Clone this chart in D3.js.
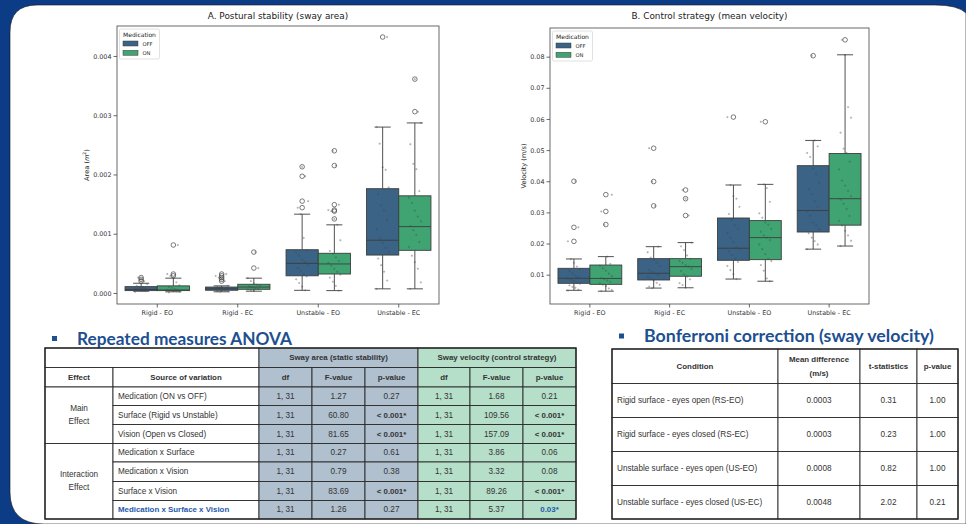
<!DOCTYPE html>
<html>
<head>
<meta charset="utf-8">
<script src="https://cdn.jsdelivr.net/npm/d3@7"></script>
<style>
  body { margin:0; background:#0c3c86; }
  svg { display:block; }
  .tick text { font-family:"DejaVu Sans", sans-serif; }
  .tbl { font-family:"Liberation Sans", Arial, sans-serif; }
</style>
</head>
<body>
<svg id="slide"></svg>
<script>
// ---------- data ----------
var conditions=["Rigid - EO","Rigid - EC","Unstable - EO","Unstable - EC"]
var medication=["OFF","ON"]
var medColors=["#3a6386","#3fa472"]

// A. sway area, [OFF, ON] per condition
var areaQ1=[[0.00004,0.00004],[0.000046,0.000062],[0.00029,0.00032],[0.00064,0.00072]]
var areaMedian=[[0.00006,0.00005],[0.00007,0.0001],[0.0005,0.00049],[0.00089,0.00112]]
var areaQ3=[[0.000107,0.00012],[0.0001,0.000147],[0.00073,0.00067],[0.00176,0.00164]]
var areaLow=[[0.00003,0.00002],[0.00002,0.00003],[0.000045,0.00004],[0.00007,0.00007]]
var areaHigh=[[0.000164,0.00025],[0.00012,0.00025],[0.00133,0.00115],[0.0028,0.00287]]
var areaOutliers=[
  [[0.0002,0.00023,0.00026],[0.00029,0.00032,0.00081]],
  [[0.0002,0.00023,0.00026,0.00029,0.00032],[0.00042,0.00069]],
  [[0.00144,0.00155,0.00197,0.00213],[0.00125,0.00138,0.0014,0.00149,0.00215,0.0024]],
  [[0.00432],[0.00306,0.00361]]
]
var areaPoints=[
  [[0.00002,0.00003,0.000035,0.00004,0.000045,0.00005,0.000052,0.00006,0.000066,0.00007,0.00008,0.00009,0.000104,0.00012,0.00015,0.0002,0.00023,0.00026],
   [0.00001,0.00002,0.000028,0.000036,0.000044,0.00005,0.000058,0.00007,0.000085,0.0001,0.00013,0.00018,0.00025,0.00029,0.00032,0.00081]],
  [[0.00002,0.000028,0.000035,0.000042,0.00005,0.000057,0.000066,0.000072,0.000081,0.00009,0.0001,0.00012,0.0002,0.00023,0.00026,0.00029,0.00032],
   [0.00003,0.000045,0.00006,0.000068,0.00008,0.000095,0.00011,0.000125,0.00014,0.00016,0.0002,0.00025,0.00042,0.00069]],
  [[0.000045,0.00011,0.00017,0.00023,0.00028,0.00031,0.00037,0.00042,0.00047,0.00052,0.00056,0.00063,0.00068,0.00072,0.00093,0.00133,0.00144,0.00155,0.00197,0.00213],
   [0.00004,0.00012,0.00019,0.00026,0.00031,0.00036,0.00041,0.00046,0.00051,0.00054,0.0006,0.00066,0.00071,0.00089,0.00115,0.00125,0.00138,0.0014,0.00149,0.00215,0.0024]],
  [[0.00007,0.00021,0.00036,0.00047,0.00058,0.00069,0.00076,0.00084,0.00092,0.00108,0.00123,0.00139,0.00148,0.00167,0.00178,0.00208,0.00212,0.00252,0.0028,0.00432],
   [0.00007,0.00018,0.00041,0.00052,0.00063,0.00078,0.00086,0.00098,0.00106,0.00113,0.00121,0.00129,0.00139,0.00152,0.00161,0.00172,0.00209,0.00218,0.00251,0.00287,0.00306,0.00361]]
]
var areaTicks=[0,0.001,0.002,0.003,0.004]

// B. sway velocity, [OFF, ON] per condition
var velQ1=[[0.00723,0.0069],[0.0083,0.0095],[0.01462,0.01483],[0.0237,0.0259]]
var velMedian=[[0.00884,0.0088],[0.01045,0.01258],[0.01848,0.0219],[0.0306,0.0344]]
var velQ3=[[0.01205,0.0131],[0.01515,0.01515],[0.0282,0.02737],[0.045,0.0489]]
var velLow=[[0.00498,0.0047],[0.0057,0.0058],[0.0086,0.0079],[0.0182,0.0192]]
var velHigh=[[0.01505,0.0158],[0.019,0.0203],[0.0388,0.039],[0.0531,0.0806]]
var velOutliers=[
  [[0.0207,0.0252,0.04],[0.0261,0.0303,0.0357]],
  [[0.0321,0.0399,0.0506],[0.029,0.0344,0.0372]],
  [[0.0606],[0.0591]],
  [[0.0803],[0.0854]]
]
var velPoints=[
  [[0.0049,0.0052,0.0058,0.0061,0.0066,0.0071,0.0074,0.0079,0.0083,0.0088,0.0091,0.0097,0.0104,0.0112,0.0118,0.0126,0.0138,0.015,0.0207,0.0252,0.04],
   [0.0047,0.0051,0.0056,0.0063,0.0068,0.0072,0.0077,0.0082,0.0086,0.0089,0.0095,0.0103,0.0113,0.0121,0.0129,0.0135,0.0158,0.0261,0.0303,0.0357]],
  [[0.0057,0.0062,0.0068,0.0074,0.0081,0.0087,0.0093,0.0099,0.0104,0.0109,0.0116,0.0128,0.0139,0.0147,0.0155,0.0172,0.019,0.0321,0.0399,0.0506],
   [0.0058,0.0067,0.0073,0.0085,0.0094,0.0101,0.0112,0.0119,0.0126,0.0131,0.0138,0.0144,0.0151,0.0162,0.0179,0.0191,0.0203,0.029,0.0344,0.0372]],
  [[0.0086,0.0102,0.0115,0.0128,0.0141,0.0152,0.0163,0.0175,0.0183,0.0189,0.0204,0.0218,0.0233,0.0247,0.0259,0.0276,0.0295,0.0318,0.0344,0.0352,0.0388,0.0606],
   [0.0079,0.0088,0.0113,0.0131,0.0144,0.0151,0.0166,0.0182,0.0197,0.0211,0.0219,0.0226,0.0238,0.0247,0.0261,0.0268,0.0283,0.0297,0.0334,0.0378,0.039,0.0591]],
  [[0.0182,0.0197,0.0208,0.0219,0.0233,0.0246,0.0259,0.0268,0.0289,0.0303,0.0318,0.0336,0.0358,0.0374,0.0395,0.0423,0.0441,0.0478,0.0491,0.0512,0.0531,0.0803],
   [0.0192,0.0209,0.0226,0.0241,0.0258,0.0273,0.0289,0.0311,0.0328,0.0341,0.0352,0.0369,0.0386,0.0402,0.0438,0.0463,0.0491,0.0505,0.0556,0.0604,0.0638,0.0806,0.0854]]
]
var velTicks=[0.01,0.02,0.03,0.04,0.05,0.06,0.07,0.08]

// ANOVA table
var anovaSources=["Medication (ON vs OFF)","Surface (Rigid vs Unstable)","Vision (Open vs Closed)","Medication x Surface","Medication x Vision","Surface x Vision","Medication x Surface x Vision"]
var anovaEffects=[["Main","Effect"],["Interaction","Effect"]]
var anovaEffectRows=[3,4]
var anovaDf=["1, 31","1, 31","1, 31","1, 31","1, 31","1, 31","1, 31"]
var areaF=["1.27","60.80","81.65","0.27","0.79","83.69","1.26"]
var areaP=["0.27","< 0.001*","< 0.001*","0.61","0.38","< 0.001*","0.27"]
var velF=["1.68","109.56","157.09","3.86","3.32","89.26","5.37"]
var velP=["0.21","< 0.001*","< 0.001*","0.06","0.08","< 0.001*","0.03*"]

// Bonferroni table
var bonfConditions=["Rigid surface - eyes open (RS-EO)","Rigid surface - eyes closed (RS-EC)","Unstable surface - eyes open (US-EO)","Unstable surface - eyes closed (US-EC)"]
var bonfMeanDiff=["0.0003","0.0003","0.0008","0.0048"]
var bonfT=["0.31","0.23","0.82","2.02"]
var bonfP=["1.00","1.00","1.00","0.21"]

// ---------- slide ----------
var screen={width:966,height:524}
var svg=d3.select("#slide").attr("width",screen.width).attr("height",screen.height)
svg.append("rect").attr("width",screen.width).attr("height",screen.height).attr("fill","#0c3c86")
svg.append("path")
  .attr("d","M10,32 Q10,5 37,5 L935,5 Q958,5 966,13 L966,524 L44,524 Q10,524 10,492 Z")
  .attr("fill","#fff").attr("stroke","#111").attr("stroke-width",0.6)

var navy="#1d4f91"
var linkBlue="#2459ad"

// ---------- box chart ----------
var drawBoxChart=function(cfg){
  var frame=cfg.frame
  var g=svg.append("g")
  var xScale=d3.scaleBand().domain(conditions).range([frame.left,frame.right])
  var hueScale=d3.scaleBand().domain(medication).range([0,xScale.bandwidth()*0.8])
  var yScale=d3.scaleLinear().domain(cfg.domain).range([frame.bottom,frame.top])
  var boxW=hueScale.bandwidth()
  var stroke="#3d3d3d"

  conditions.forEach(function(c,ci){
    medication.forEach(function(m,mi){
      var cx=xScale(c)+xScale.bandwidth()*0.1+hueScale(m)+boxW/2
      var bg=g.append("g")
      // whiskers
      bg.append("line").attr("x1",cx).attr("x2",cx)
        .attr("y1",yScale(cfg.q3[ci][mi])).attr("y2",yScale(cfg.high[ci][mi]))
        .attr("stroke",stroke).attr("stroke-width",0.9)
      bg.append("line").attr("x1",cx).attr("x2",cx)
        .attr("y1",yScale(cfg.q1[ci][mi])).attr("y2",yScale(cfg.low[ci][mi]))
        .attr("stroke",stroke).attr("stroke-width",0.9)
      bg.selectAll("line.cap").data([cfg.low[ci][mi],cfg.high[ci][mi]]).enter()
        .append("line").attr("class","cap")
        .attr("x1",cx-boxW/4).attr("x2",cx+boxW/4)
        .attr("y1",function(d){return yScale(d)}).attr("y2",function(d){return yScale(d)})
        .attr("stroke",stroke).attr("stroke-width",0.9)
      // box
      bg.append("rect")
        .attr("x",cx-boxW/2).attr("width",boxW)
        .attr("y",yScale(cfg.q3[ci][mi]))
        .attr("height",yScale(cfg.q1[ci][mi])-yScale(cfg.q3[ci][mi]))
        .attr("fill",medColors[mi]).attr("stroke",stroke).attr("stroke-width",0.9)
      bg.append("line")
        .attr("x1",cx-boxW/2).attr("x2",cx+boxW/2)
        .attr("y1",yScale(cfg.median[ci][mi])).attr("y2",yScale(cfg.median[ci][mi]))
        .attr("stroke",stroke).attr("stroke-width",0.9)
      // outliers
      bg.selectAll("circle.flier").data(cfg.outliers[ci][mi]).enter()
        .append("circle").attr("class","flier")
        .attr("cx",cx).attr("cy",function(d){return yScale(d)})
        .attr("r",2.3).attr("fill","none").attr("stroke","#444").attr("stroke-width",0.7)
      // strip points
      bg.selectAll("circle.pt").data(cfg.points[ci][mi]).enter()
        .append("circle").attr("class","pt")
        .attr("cx",function(d,i){return cx+(((i*7+ci*3+mi)%9)-4)*1.5})
        .attr("cy",function(d){return yScale(d)})
        .attr("r",0.9).attr("fill","#555").attr("fill-opacity",0.4)
        .attr("stroke","#333").attr("stroke-opacity",0.3).attr("stroke-width",0.3)
    })
  })

  // frame
  g.append("rect").attr("x",frame.left).attr("y",frame.top)
    .attr("width",frame.right-frame.left).attr("height",frame.bottom-frame.top)
    .attr("fill","none").attr("stroke","#5a5a5a").attr("stroke-width",0.9)

  var yAxis=d3.axisLeft(yScale).tickValues(cfg.ticks).tickFormat(d3.format(cfg.fmt)).tickSize(3.5).tickPadding(2)
  var xAxis=d3.axisBottom(xScale).tickSize(3.5).tickPadding(3)
  var ya=g.append("g").attr("transform","translate("+frame.left+",0)").call(yAxis)
  var xa=g.append("g").attr("transform","translate(0,"+frame.bottom+")").call(xAxis)
  ;[ya,xa].forEach(function(a){
    a.select(".domain").remove()
    a.selectAll(".tick line").attr("stroke","#444").attr("stroke-width",0.8)
    a.selectAll(".tick text").attr("font-size",6.4).attr("fill","#333")
  })

  // title and labels
  g.append("text").text(cfg.title)
    .attr("x",(frame.left+frame.right)/2).attr("y",18.5)
    .attr("text-anchor","middle").attr("font-family","DejaVu Sans").attr("font-size",8.9).attr("fill","#222")
  var yl=g.append("text")
    .attr("transform","translate("+cfg.ylabelX+","+((frame.top+frame.bottom)/2)+") rotate(-90)")
    .attr("text-anchor","middle").attr("font-family","DejaVu Sans").attr("font-size",6.6).attr("fill","#222")
  cfg.ylabel(yl)

  // legend
  var lg=g.append("g").attr("transform","translate("+(frame.left+2.5)+","+(frame.top+3)+")")
  lg.append("rect").attr("width",40).attr("height",30).attr("rx",1.5)
    .attr("fill","#fff").attr("stroke","#ccc").attr("stroke-width",0.6)
  lg.append("text").text("Medication").attr("x",20).attr("y",7.8).attr("text-anchor","middle")
    .attr("font-family","DejaVu Sans").attr("font-size",6).attr("fill","#222")
  medication.forEach(function(m,i){
    lg.append("rect").attr("x",3.5).attr("y",12+i*9.3).attr("width",15).attr("height",5)
      .attr("fill",medColors[i]).attr("stroke","#3d3d3d").attr("stroke-width",0.5)
    lg.append("text").text(m).attr("x",23).attr("y",16.6+i*9.3)
      .attr("font-family","DejaVu Sans").attr("font-size",5.2).attr("fill","#222")
  })
}

drawBoxChart({
  frame:{left:117,right:439,top:26,bottom:304},
  domain:[-0.000186,0.004506],
  ticks:areaTicks, fmt:".3f",
  q1:areaQ1, median:areaMedian, q3:areaQ3, low:areaLow, high:areaHigh,
  outliers:areaOutliers, points:areaPoints,
  title:"A. Postural stability (sway area)",
  ylabelX:89,
  ylabel:function(t){
    t.append("tspan").text("Area (")
    t.append("tspan").text("m").attr("font-style","italic")
    t.append("tspan").text("2").attr("font-size",4.6).attr("dy",-2.6)
    t.append("tspan").text(")").attr("dy",2.6)
  }
})

drawBoxChart({
  frame:{left:550,right:869,top:28,bottom:304},
  domain:[0.00059,0.0892],
  ticks:velTicks, fmt:".2f",
  q1:velQ1, median:velMedian, q3:velQ3, low:velLow, high:velHigh,
  outliers:velOutliers, points:velPoints,
  title:"B. Control strategy (mean velocity)",
  ylabelX:526,
  ylabel:function(t){ t.text("Velocity (m/s)") }
})

// ---------- headings ----------
var heading=function(x,y,txt,len){
  svg.append("rect").attr("x",x).attr("y",y-8.5).attr("width",5).attr("height",5).attr("fill",navy)
  svg.append("text").text(txt).attr("x",x+25).attr("y",y)
    .attr("font-family","Lato, 'Open Sans', sans-serif").attr("font-weight","bold")
    .attr("font-size",16.5).attr("fill",navy)
    .attr("textLength",len).attr("lengthAdjust","spacingAndGlyphs")
}
heading(52,344.5,"Repeated measures ANOVA",215)
heading(619,342,"Bonferroni correction (sway velocity)",290)

// ---------- tables ----------
var cell=function(x0,x1,y0,y1,fill){
  svg.append("rect").attr("x",x0).attr("y",y0).attr("width",x1-x0).attr("height",y1-y0)
    .attr("fill",fill).attr("stroke","#2b2b2b").attr("stroke-width",0.9)
}
var label=function(x,y,txt,opts){
  opts=opts||{}
  svg.append("text").attr("class","tbl").text(txt).attr("x",x).attr("y",y)
    .attr("text-anchor",opts.anchor||"middle").attr("dominant-baseline","central")
    .attr("font-size",opts.size||(opts.bold?7.9:8.2)).attr("font-weight",opts.bold?"bold":"normal")
    .attr("fill",opts.color||"#333")
}

var aCols=[45,113,259,312,365,418,470,523,576]
var aRows=[348,367.5,387,405.5,424.5,443.5,462,481.5,500.5,519]
var areaFill="#b0c0cf", velFill="#b6dfca"

// header row 1
cell(aCols[0],aCols[2],aRows[0],aRows[1],"#fff")
cell(aCols[2],aCols[5],aRows[0],aRows[1],areaFill)
cell(aCols[5],aCols[8],aRows[0],aRows[1],velFill)
label((aCols[2]+aCols[5])/2,(aRows[0]+aRows[1])/2,"Sway area (static stability)",{bold:true})
label((aCols[5]+aCols[8])/2,(aRows[0]+aRows[1])/2,"Sway velocity (control strategy)",{bold:true})
// header row 2
var aHeads=["Effect","Source of variation","df","F-value","p-value","df","F-value","p-value"]
aHeads.forEach(function(h,i){
  cell(aCols[i],aCols[i+1],aRows[1],aRows[2],i<2?"#fff":(i<5?areaFill:velFill))
  label((aCols[i]+aCols[i+1])/2,(aRows[1]+aRows[2])/2,h,{bold:true})
})
// effect cells
var r=2
anovaEffects.forEach(function(e,i){
  var y0=aRows[r], y1=aRows[r+anovaEffectRows[i]]
  cell(aCols[0],aCols[1],y0,y1,"#fff")
  label((aCols[0]+aCols[1])/2,(y0+y1)/2-6.5,e[0])
  label((aCols[0]+aCols[1])/2,(y0+y1)/2+6.5,e[1])
  r+=anovaEffectRows[i]
})
// body rows
anovaSources.forEach(function(s,i){
  var y0=aRows[i+2], y1=aRows[i+3], ym=(y0+y1)/2
  var last=(i===anovaSources.length-1)
  cell(aCols[1],aCols[2],y0,y1,"#fff")
  label(aCols[1]+5,ym,s,{anchor:"start",bold:last,color:last?linkBlue:"#333"})
  var vals=[anovaDf[i],areaF[i],areaP[i],anovaDf[i],velF[i],velP[i]]
  vals.forEach(function(v,j){
    cell(aCols[j+2],aCols[j+3],y0,y1,j<3?areaFill:velFill)
    var isSig=v.indexOf("*")>=0
    var blue=(j===5&&last)
    label((aCols[j+2]+aCols[j+3])/2,ym,v,{bold:isSig,color:blue?linkBlue:"#333"})
  })
})
svg.append("rect").attr("x",aCols[0]).attr("y",aRows[0]).attr("width",aCols[8]-aCols[0]).attr("height",aRows[9]-aRows[0])
  .attr("fill","none").attr("stroke","#222").attr("stroke-width",1.3)

// Bonferroni
var bCols=[612,778,860,917,958]
var bRows=[349,383.5,417.5,451.5,485.5,519]
var bHeads=[["Condition"],["Mean difference","(m/s)"],["t-statistics"],["p-value"]]
bHeads.forEach(function(h,i){
  cell(bCols[i],bCols[i+1],bRows[0],bRows[1],"#fff")
  var cx=(bCols[i]+bCols[i+1])/2, cy=(bRows[0]+bRows[1])/2
  if(h.length===1) label(cx,cy,h[0],{bold:true})
  else { label(cx,cy-7,h[0],{bold:true}); label(cx,cy+7,h[1],{bold:true}) }
})
bonfConditions.forEach(function(c,i){
  var y0=bRows[i+1], y1=bRows[i+2], ym=(y0+y1)/2
  var vals=[c,bonfMeanDiff[i],bonfT[i],bonfP[i]]
  vals.forEach(function(v,j){
    cell(bCols[j],bCols[j+1],y0,y1,"#fff")
    if(j===0) label(bCols[0]+5,ym,v,{anchor:"start"})
    else label((bCols[j]+bCols[j+1])/2,ym,v)
  })
})
svg.append("rect").attr("x",bCols[0]).attr("y",bRows[0]).attr("width",bCols[4]-bCols[0]).attr("height",bRows[5]-bRows[0])
  .attr("fill","none").attr("stroke","#222").attr("stroke-width",1.3)
</script>
</body>
</html>
